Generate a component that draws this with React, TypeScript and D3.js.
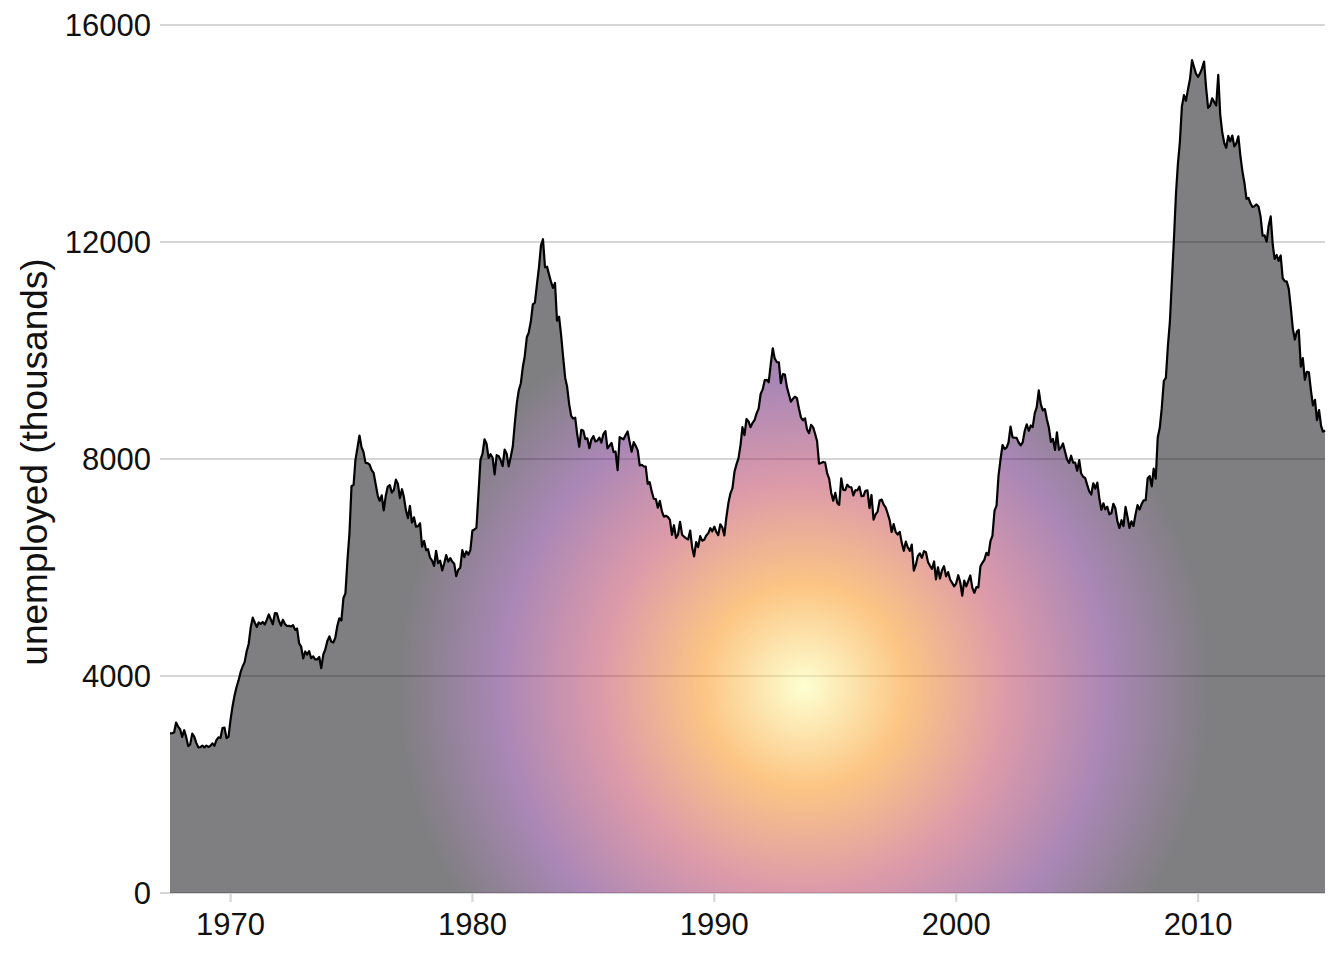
import React, { useEffect, useRef } from "react";
import * as d3 from "d3";

// monthly unemployed (thousands), starting July 1967
const startDate = new Date(1967, 6, 1);

const u1960s = [
  2944, 2945, 2958, 3143, 3066, 3018,
  2878, 3001, 2877, 2709, 2740, 2938, 2883, 2768, 2686, 2689, 2715, 2685,
  2718, 2692, 2712, 2758, 2713, 2816, 2868, 2856, 3040, 3049, 2856, 2884,
];

const u1970s = [
  3201, 3453, 3635, 3797, 3919, 4071, 4175, 4256, 4456, 4591, 4898, 5076,
  4986, 4903, 4987, 4959, 4996, 4949, 5035, 5134, 5042, 4954, 5161, 5154,
  5019, 4928, 5038, 4959, 4922, 4923, 4913, 4939, 4849, 4875, 4602, 4543,
  4326, 4452, 4394, 4459, 4329, 4363, 4305, 4305, 4350, 4144, 4396, 4489,
  4644, 4731, 4634, 4618, 4705, 4927, 5063, 5022, 5437, 5523, 6140, 6636,
  7501, 7520, 7978, 8210, 8433, 8220, 8127, 7928, 7923, 7897, 7794, 7744,
  7534, 7326, 7230, 7330, 7053, 7322, 7490, 7518, 7380, 7430, 7620, 7545,
  7280, 7443, 7307, 7059, 6911, 7134, 6829, 6925, 6751, 6763, 6815, 6386,
  6489, 6318, 6337, 6180, 6127, 6028, 6309, 6080, 6125, 5947, 6077, 6228,
  6109, 6173, 6109, 6069, 5840, 5959, 5996, 6320, 6190, 6296, 6238, 6325,
];

const u1980s = [
  6683, 6702, 6729, 7358, 7984, 8098, 8363, 8281, 8021, 8088, 8023, 7718,
  8071, 8051, 7982, 7869, 8174, 8098, 7863, 8036, 8230, 8646, 9029, 9267,
  9397, 9705, 9895, 10244, 10335, 10538, 10849, 10881, 11217, 11529, 11938, 12051,
  11534, 11545, 11408, 11268, 11154, 11246, 10548, 10623, 10282, 9887, 9499, 9331,
  9008, 8791, 8746, 8762, 8456, 8226, 8537, 8519, 8367, 8381, 8198, 8358,
  8423, 8321, 8339, 8395, 8302, 8460, 8513, 8196, 8248, 8298, 8128, 8138,
  7795, 8402, 8383, 8364, 8439, 8508, 8319, 8135, 8310, 8243, 8159, 7883,
  7892, 7865, 7862, 7542, 7574, 7398, 7268, 7261, 7102, 7227, 7035, 6936,
  6953, 6929, 6876, 6601, 6779, 6546, 6605, 6843, 6604, 6568, 6537, 6518,
  6682, 6359, 6205, 6468, 6375, 6577, 6495, 6511, 6590, 6630, 6725, 6667,
];

const u1990s = [
  6752, 6651, 6598, 6797, 6742, 6590, 6922, 7188, 7368, 7459, 7764, 7901,
  8015, 8265, 8586, 8439, 8736, 8692, 8586, 8666, 8722, 8842, 8931, 9198,
  9283, 9454, 9460, 9415, 9744, 10040, 9850, 9787, 9781, 9398, 9565, 9557,
  9325, 9183, 9056, 9110, 9149, 9121, 8930, 8763, 8714, 8750, 8542, 8477,
  8630, 8583, 8470, 8331, 7915, 7927, 7946, 7933, 7734, 7632, 7375, 7230,
  7375, 7187, 7153, 7645, 7430, 7427, 7527, 7484, 7478, 7328, 7426, 7423,
  7491, 7313, 7318, 7415, 7423, 7095, 7337, 6882, 6979, 7031, 7236, 7253,
  7158, 7102, 7000, 6873, 6655, 6799, 6655, 6608, 6656, 6454, 6308, 6476,
  6368, 6306, 6422, 5941, 6047, 6212, 6259, 6179, 6300, 6280, 6100, 6032,
  5976, 6111, 5783, 6004, 5796, 5951, 6025, 5838, 5915, 5778, 5716, 5653,
];

const u2000s = [
  5708, 5858, 5733, 5481, 5758, 5651, 5747, 5853, 5625, 5534, 5639, 5634,
  6023, 6089, 6141, 6271, 6226, 6484, 6583, 7042, 7142, 7694, 8003, 8258,
  8182, 8215, 8304, 8599, 8399, 8393, 8390, 8304, 8251, 8307, 8520, 8640,
  8520, 8618, 8588, 8842, 8957, 9266, 9011, 8896, 8921, 8732, 8576, 8317,
  8370, 8167, 8491, 8170, 8212, 8286, 8136, 7990, 7927, 8061, 7932, 7934,
  7784, 7980, 7737, 7672, 7651, 7524, 7406, 7345, 7553, 7453, 7566, 7279,
  7064, 7184, 7072, 7120, 6980, 7001, 7175, 7091, 6847, 6727, 6872, 6762,
  7116, 6927, 6731, 6850, 6766, 6979, 7149, 7067, 7170, 7237, 7240, 7645,
  7685, 7497, 7822, 7637, 8395, 8575, 8937, 9438, 9494, 10074, 10538, 11286,
  12058, 12898, 13426, 13853, 14499, 14707, 14601, 14814, 15009, 15352, 15219, 15098,
];

const u2010s = [
  15046, 15113, 15202, 15325, 14849, 14474, 14512, 14648, 14579, 14516, 15081, 14348,
  14013, 13820, 13737, 13957, 13855, 13962, 13763, 13818, 13948, 13594, 13302, 13093,
  12797, 12813, 12713, 12646, 12660, 12692, 12656, 12471, 12115, 12124, 12005, 12298,
  12471, 11950, 11689, 11760, 11654, 11751, 11335, 11279, 11270, 11136, 10787, 10404,
  10202, 10349, 10380, 9702, 9859, 9460, 9608, 9599, 9262, 8990, 9090, 8717,
  8903, 8610, 8504, 8526,
];

const unemploy = [...u1960s, ...u1970s, ...u1980s, ...u1990s, ...u2000s, ...u2010s];

const yTicks = [0, 4000, 8000, 12000, 16000];
const xTickYears = [1970, 1980, 1990, 2000, 2010];
// inferno(5), from the centre of the glow outwards
const glowColors = ["#FCFFA4", "#F98C0A", "#BB3754", "#56106E", "#000004"];

const FONT = "'Liberation Sans', Arial, Helvetica, sans-serif";

export default function App() {
  const svgRef = useRef<SVGSVGElement | null>(null);
  const width = 1344;
  const height = 960;
  const margin = { top: 25, right: 19, bottom: 67, left: 170 };

  useEffect(() => {
    const svgElement = svgRef.current;
    if (!svgElement) return;
    const svg = d3.select(svgElement);
    svg.selectAll("*").remove();

    const data = unemploy.map((v, i) => ({
      date: d3.timeMonth.offset(startDate, i),
      value: v,
    }));

    const x = d3
      .scaleTime()
      .domain(d3.extent(data, (d) => d.date) as [Date, Date])
      .range([margin.left, width - margin.right]);
    const y = d3
      .scaleLinear()
      .domain([0, 16000])
      .range([height - margin.bottom, margin.top]);

    const panelW = width - margin.left - margin.right;
    const panelH = height - margin.top - margin.bottom;

    // radial glow
    const defs = svg.append("defs");
    const grad = defs
      .append("radialGradient")
      .attr("id", "glow")
      .attr("gradientUnits", "userSpaceOnUse")
      .attr("cx", margin.left + panelW * 0.549)
      .attr("cy", margin.top + panelH * 0.762)
      .attr("r", panelW * 0.35);
    glowColors.forEach((c, i) => {
      grad
        .append("stop")
        .attr("offset", i / (glowColors.length - 1))
        .attr("stop-color", c);
    });

    // grid + y ticks
    svg
      .append("g")
      .selectAll("line")
      .data(yTicks)
      .enter()
      .append("line")
      .attr("x1", margin.left - 10)
      .attr("x2", width - margin.right)
      .attr("y1", (d) => y(d))
      .attr("y2", (d) => y(d))
      .attr("stroke", "#D6D6D6")
      .attr("stroke-width", 2.2);

    // x ticks
    svg
      .append("g")
      .selectAll("line")
      .data(xTickYears)
      .enter()
      .append("line")
      .attr("x1", (d) => x(new Date(d, 0, 1)))
      .attr("x2", (d) => x(new Date(d, 0, 1)))
      .attr("y1", y(0))
      .attr("y2", y(0) + 9)
      .attr("stroke", "#D6D6D6")
      .attr("stroke-width", 2.2);

    const area = d3
      .area<{ date: Date; value: number }>()
      .x((d) => x(d.date))
      .y0(y(0))
      .y1((d) => y(d.value));

    svg
      .append("path")
      .datum(data)
      .attr("d", area)
      .attr("fill", "url(#glow)")
      .attr("fill-opacity", 0.5);

    const line = d3
      .line<{ date: Date; value: number }>()
      .x((d) => x(d.date))
      .y((d) => y(d.value));

    svg
      .append("path")
      .datum(data)
      .attr("d", line)
      .attr("fill", "none")
      .attr("stroke", "#000")
      .attr("stroke-width", 2.2)
      .attr("stroke-linejoin", "round");

    // tick labels
    svg
      .append("g")
      .selectAll("text")
      .data(yTicks)
      .enter()
      .append("text")
      .attr("x", margin.left - 19)
      .attr("y", (d) => y(d))
      .attr("dy", "0.36em")
      .attr("text-anchor", "end")
      .attr("font-family", FONT)
      .attr("font-size", 31)
      .attr("fill", "#111")
      .text((d) => String(d));

    svg
      .append("g")
      .selectAll("text")
      .data(xTickYears)
      .enter()
      .append("text")
      .attr("x", (d) => x(new Date(d, 0, 1)))
      .attr("y", y(0) + 42)
      .attr("text-anchor", "middle")
      .attr("font-family", FONT)
      .attr("font-size", 31)
      .attr("fill", "#111")
      .text((d) => String(d));

    svg
      .append("text")
      .attr("transform", `translate(47,${margin.top + panelH / 2 + 3}) rotate(-90)`)
      .attr("text-anchor", "middle")
      .attr("font-family", FONT)
      .attr("font-size", 37)
      .attr("fill", "#111")
      .text("unemployed (thousands)");
  }, []);

  return (
    <svg
      ref={svgRef}
      width={width}
      height={height}
      style={{ position: "absolute", left: 0, top: 0, background: "#fff" }}
    />
  );
}
